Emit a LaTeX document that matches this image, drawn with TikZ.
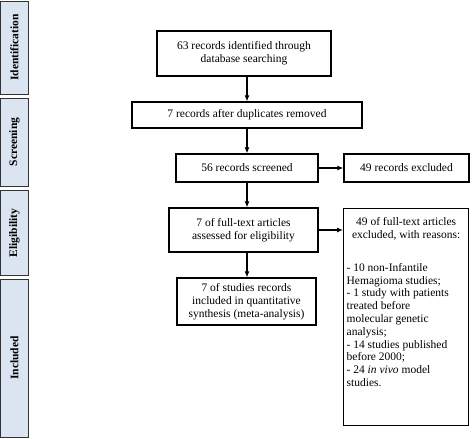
\documentclass[tikz,border=0pt]{standalone}
\usepackage{fontspec}
\setmainfont{Liberation Serif}
\usetikzlibrary{arrows.meta}
\definecolor{barblue}{RGB}{219,229,241}
\begin{document}
\begin{tikzpicture}[x=1pt,y=-1pt,
  every node/.style={font=\fontsize{11.5}{12.8}\selectfont},
  phase/.style={draw=black!80,fill=barblue,line width=0.9pt,minimum height=28pt,inner sep=0pt,font=\fontsize{11.5}{12.8}\selectfont\bfseries,rotate=90},
  box/.style={draw,line width=1.3pt,inner sep=2pt,align=center},
  arr/.style={-{Latex[length=6pt,width=5pt]},line width=1.1pt}]
\useasboundingbox (0,0) rectangle (474,439);
% phases on the left
\node[phase,minimum width=93pt] (ident) at (14.5,47.5) {Identification};
\node[phase,minimum width=88pt] (screen) at (14.5,142) {Screening};
\node[phase,minimum width=85pt] (elig) at (14.5,233) {Eligibility};
\node[phase,minimum width=158pt] (incl) at (14.5,358) {Included};
% flow boxes
\node[box,minimum width=174pt,minimum height=45pt] (found) at (244,53.5) {63 records identified through\\database searching};
\node[box,minimum width=230pt,minimum height=26pt] (dupl) at (247,115) {7 records after duplicates removed};
\node[box,minimum width=142pt,minimum height=28pt] (screened) at (247,168) {56 records screened};
\node[box,minimum width=125pt,minimum height=28pt] (excl) at (406.5,168) {49 records excluded};
\node[box,minimum width=149pt,minimum height=44pt] (fulltext) at (243.5,230) {7 of full-text articles\\assessed for eligibility};
\node[box,minimum width=139pt,minimum height=47pt] (studies) at (246.5,301.5) {7 of studies records\\included in quantitative\\synthesis (meta-analysis)};
\node[box,inner xsep=3pt,inner ysep=9pt,anchor=north west] (reasons) at (343,208) {\parbox[c][199pt][t]{119pt}{\centering
  49 of full-text articles\\excluded, with reasons:\par
  \raggedright\vspace{20pt}
  - 10 non-Infantile\\Hemagioma studies;\\
  - 1 study with patients\\treated before\\molecular genetic\\analysis;\\
  - 14 studies published\\before 2000;\\
  - 24 \textit{in vivo} model\\studies.}};
% arrows
\draw[arr] (found.south -| dupl.north) -- (dupl.north);
\draw[arr] (dupl.south) -- (screened.north);
\draw[arr] (screened) -- (excl);
\draw[arr] (screened.south) -- (screened.south |- fulltext.north);
\draw[arr] (fulltext.east) -- (fulltext.east -| reasons.west);
\draw[arr] (fulltext.south -| screened.south) -- (studies.north -| screened.south);
\end{tikzpicture}
\end{document}
